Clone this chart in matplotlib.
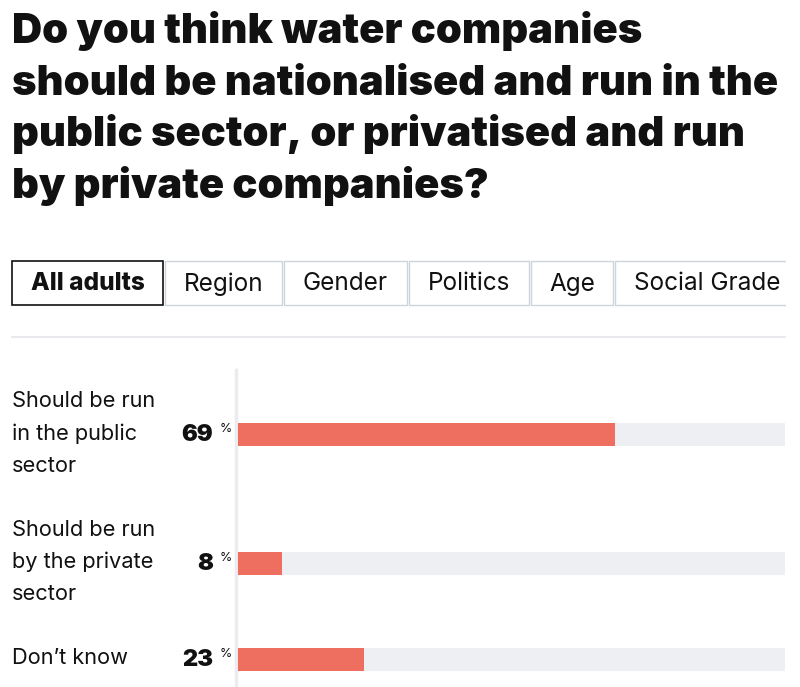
import matplotlib.pyplot as plt
from matplotlib.patches import Rectangle

# data
title_lines = ["Do you think water companies", "should be nationalised and run in the",
               "public sector, or privatised and run", "by private companies?"]
tabs = ['All adults', 'Region', 'Gender', 'Politics', 'Age', 'Social Grade']
answers = [['Should be run', 'in the public', 'sector'],
           ['Should be run', 'by the private', 'sector'],
           ['Don\u2019t know']]
values = [69, 8, 23]

W, H = 800, 687
bar_color = '#ee6f5f'
track_color = '#eeeff3'
font = ['Inter', 'DejaVu Sans']

fig = plt.figure(figsize=(W / 100, H / 100), dpi=100)
plt.rcParams['font.family'] = font

# full-figure pixel axes for the text and tabs
bg = fig.add_axes([0, 0, 1, 1])
bg.set_xlim(0, W)
bg.set_ylim(H, 0)
bg.axis('off')

for k, line in enumerate(title_lines):
    bg.text(12, 43 + k * 51.7, line, fontsize=30, fontweight='black', va='baseline',
            ha='left', color='#111111')

# tabs
tab_edges = [12, 165, 284, 409, 531, 615, 800]
for i, name in enumerate(tabs):
    x0, x1 = tab_edges[i], tab_edges[i + 1] - 2
    sel = i == 0
    bg.add_patch(Rectangle((x0, 261), x1 - x0, 44, facecolor='white',
                           edgecolor='#111111' if sel else '#cfd3dc',
                           linewidth=1.2 if sel else 1.0, clip_on=True))
    bg.text((x0 + x1) / 2 if i < len(tabs) - 1 else x0 + 19, 284, name,
            fontsize=17.5, fontweight='heavy' if sel else 'normal',
            ha='center' if i < len(tabs) - 1 else 'left', va='center', color='#111111')
bg.add_patch(Rectangle((786, 255), 20, 55, facecolor='white', edgecolor='none'))

bg.plot([12, 785], [337, 337], color='#e3e5ea', lw=1.2)
bg.plot([236, 236], [370, H], color='#ececef', lw=2.5)

# bar rows, positioned by how many lines each label takes
line_h = 32.5
base = 407
centers = []
for a in answers:
    for k, line in enumerate(a):
        bg.text(12, base + k * line_h, line, fontsize=15.7, va='baseline', ha='left',
                color='#111111')
    mid = base + (len(a) - 1) / 2 * line_h
    centers.append(mid - 5)
    base += len(a) * line_h + 31

bar_y0, bar_y1 = 370, H
ax = fig.add_axes([238 / W, 0, (785 - 238) / W, (bar_y1 - bar_y0) / H])
ax.set_xlim(0, 100)
ax.set_ylim(bar_y1 - bar_y0, 0)
ax.axis('off')
rows = [c - bar_y0 for c in centers]
ax.barh(rows, [100] * len(values), height=23, color=track_color)
ax.barh(rows, values, height=23, color=bar_color)

for c, v in zip(centers, values):
    bg.text(213, c + 6.5, str(v), fontsize=17, fontweight='black', ha='right', va='baseline', color='#111111')
    bg.text(220, c - 5, '%', fontsize=9, ha='left', va='center', color='#111111')

fig.savefig('out.png', dpi=100)
